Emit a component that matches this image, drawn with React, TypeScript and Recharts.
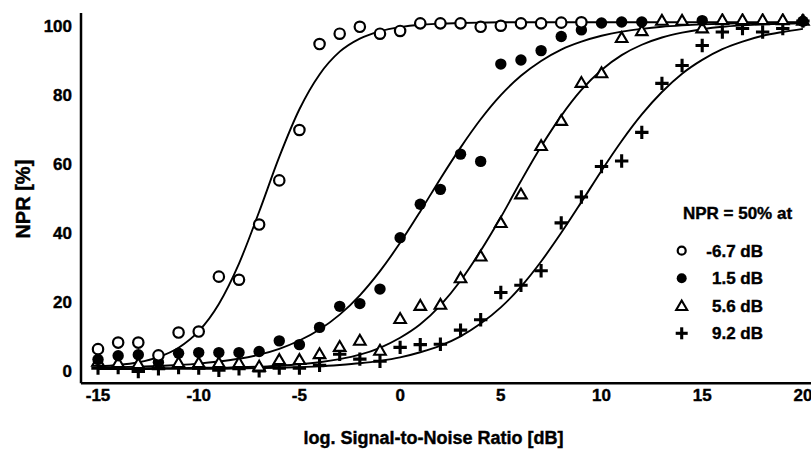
import React from 'react';
import { ComposedChart, Line, Scatter, XAxis, YAxis, Legend } from 'recharts';

// SNR grid (dB)
const snr = [-15, -14, -13, -12, -11, -10, -9, -8, -7, -6, -5, -4, -3, -2, -1, 0, 1, 2, 3, 4, 5, 6, 7, 8, 9, 10, 11, 12, 13, 14, 15, 16, 17, 18, 19, 20];

// fitted curves
const fitOpen = [1.3, 1.7, 2.5, 4.0, 6.7, 11.5, 19.4, 31.1, 46.1, 62.0, 75.8, 85.9, 92.5, 96.3, 98.4, 99.6, 100.3, 100.6, 100.8, 100.9, 101, 101, 101, 101, 101, 101, 101, 101, 101, 101, 101, 101, 101, 101, 101, 101];
const fitFilled = [1.0, 1.1, 1.2, 1.4, 1.7, 2.1, 2.7, 3.5, 4.7, 6.4, 8.8, 12.0, 16.3, 21.9, 28.9, 37.1, 46.2, 55.7, 64.7, 72.9, 79.9, 85.5, 89.8, 93.1, 95.4, 97.1, 98.3, 99.1, 99.7, 100.1, 100.4, 100.6, 100.7, 100.8, 100.9, 100.9];
const fitTri = [0.7, 0.7, 0.7, 0.8, 0.8, 0.9, 0.9, 1.1, 1.2, 1.5, 1.9, 2.5, 3.4, 4.7, 6.7, 9.6, 13.5, 19.0, 26.1, 34.8, 44.5, 55.0, 65.0, 73.9, 81.4, 87.2, 91.5, 94.5, 96.6, 98.0, 99.0, 99.7, 100.1, 100.4, 100.6, 100.7];
const fitPlus = [0.5, 0.5, 0.5, 0.6, 0.6, 0.6, 0.6, 0.7, 0.8, 0.9, 1.1, 1.3, 1.7, 2.2, 2.9, 3.9, 5.4, 7.3, 10.0, 13.7, 18.4, 24.4, 31.7, 40.0, 48.9, 58.0, 66.6, 74.3, 80.8, 86.1, 90.1, 93.2, 95.4, 97.1, 98.2, 99.1];

// measured points
const openX = [-15, -14, -13, -12, -11, -10, -9, -8, -7, -6, -5, -4, -3, -2, -1, 0, 1, 2, 3, 4, 5, 6, 7, 8, 9];
const openY = [6.3, 8.2, 8.2, 4.5, 11.1, 11.4, 27.3, 26.4, 42.4, 55.2, 69.8, 94.7, 97.7, 99.7, 97.7, 98.5, 100.7, 100.7, 100.7, 99.7, 100, 100.7, 100.7, 100.9, 101];
const filledX = [-15, -14, -13, -12, -11, -10, -9, -8, -7, -6, -5, -4, -3, -2, -1, 0, 1, 2, 3, 4, 5, 6, 7, 8, 9, 10, 11, 12, 15, 20];
const filledY = [3.3, 4.4, 4.7, 2.5, 5.1, 5.3, 5.3, 5.3, 5.6, 8.7, 7.6, 12.6, 18.7, 19.5, 23.7, 38.6, 48.3, 52.6, 62.8, 60.7, 88.9, 90.1, 92.8, 96.9, 98.8, 100.8, 101.1, 101.1, 101.5, 101.3];
const triY = [2.7, 2.3, 2.0, 2.0, 2.3, 2.3, 2.3, 2.3, 1.3, 3.2, 3.2, 4.9, 7.0, 8.8, 5.9, 15.1, 18.9, 19.2, 26.9, 33.2, 42.9, 51.2, 65.2, 72.5, 83.5, 86.3, 96.5, 98.5, 101.5, 101.5, 99.3, 101.7, 101.7, 101.7, 101.7, 101.5];
const plusY = [0.8, 1.0, -0.2, 0.6, 1.0, 0.8, 0.2, 0.6, 0, 0.8, 0.8, 1.6, 4.8, 3.4, 2.8, 6.8, 7.6, 7.7, 11.8, 14.8, 22.7, 24.8, 29.0, 42.9, 50.4, 59.2, 60.8, 69.1, 83.3, 88.5, 94.3, 98.2, 99.2, 98.2, 99.2, 101.4];

// ticks & labels
const xMajor = [-15, -10, -5, 0, 5, 10, 15, 20];
const xMinor = snr;
const yMajor = [0, 20, 40, 60, 80, 100];
const yMinor = [0, 4, 8, 12, 16, 20, 24, 28, 32, 36, 40, 44, 48, 52, 56, 60, 64, 68, 72, 76, 80, 84, 88, 92, 96, 100];
const legendTitle = 'NPR = 50% at';
const legendLabels = ['-6.7 dB', '1.5 dB', '5.6 dB', '9.2 dB'];
const xTitle = 'log. Signal-to-Noise Ratio [dB]';
const yTitle = 'NPR [%]';

const zip = (xs: number[], ys: number[]) => xs.map((x, i) => ({ x, y: ys[i] }));
const curveOpen = zip(snr, fitOpen);
const curveFilled = zip(snr, fitFilled);
const curveTri = zip(snr, fitTri);
const curvePlus = zip(snr, fitPlus);
const ptsOpen = zip(openX, openY);
const ptsFilled = zip(filledX, filledY);
const ptsTri = zip(snr, triY);
const ptsPlus = zip(snr, plusY);

const FONT = '"Liberation Sans", Arial, Helvetica, sans-serif';
const XDOM: [number, number] = [-15.845, 20.6];
const YDOM: [number, number] = [-3.6, 103.7];
const TXT_STROKE = 0.4;

const OpenMark = ({ cx, cy, r = 5.2 }: any) => (
  <circle cx={cx} cy={cy} r={r} fill="#fff" stroke="#000" strokeWidth={2.2} />
);
const FilledMark = ({ cx, cy, r = 5.7 }: any) => <circle cx={cx} cy={cy} r={r} fill="#000" />;
const TriMark = ({ cx, cy, s = 1 }: any) => (
  <polygon
    points={`${cx},${cy - 5.7 * s} ${cx - 5.8 * s},${cy + 4.2 * s} ${cx + 5.8 * s},${cy + 4.2 * s}`}
    fill="#fff"
    stroke="#000"
    strokeWidth={2.1}
    strokeLinejoin="miter"
  />
);
const PlusMark = ({ cx, cy, h = 6.7 }: any) => (
  <g stroke="#000" strokeWidth={3.1}>
    <line x1={cx - h} y1={cy} x2={cx + h} y2={cy} />
    <line x1={cx} y1={cy - h} x2={cx} y2={cy + h} />
  </g>
);

const LegendBox = () => {
  const rows = [55.7, 83.3, 111, 138.3];
  const mk = [
    (y: number) => <OpenMark cx={21.7} cy={y} r={4} />,
    (y: number) => <FilledMark cx={21.7} cy={y} r={5} />,
    (y: number) => <TriMark cx={21.7} cy={y} s={0.95} />,
    (y: number) => <PlusMark cx={21.7} cy={y} h={6} />,
  ];
  return (
    <svg width={150} height={160} style={{ display: 'block' }}>
      <text x={77.5} y={18} dy="0.36em" textAnchor="middle" fontFamily={FONT} fontWeight="bold" fontSize={17} fill="#000" stroke="#000" strokeWidth={TXT_STROKE}>
        {legendTitle}
      </text>
      {legendLabels.map((l, i) => (
        <g key={l}>
          {mk[i](rows[i])}
          <text x={103} y={rows[i]} dy="0.36em" textAnchor="end" fontFamily={FONT} fontWeight="bold" fontSize={17} fill="#000" stroke="#000" strokeWidth={TXT_STROKE}>
            {l}
          </text>
        </g>
      ))}
    </svg>
  );
};

const tickStyle = { fontFamily: FONT, fontWeight: 'bold' as const, fontSize: 17, fill: '#000', stroke: '#000', strokeWidth: TXT_STROKE };

export default function App() {
  return (
    <div style={{ position: 'absolute', left: 0, top: 0, width: 811, height: 451, overflow: 'hidden', background: '#fff' }}>
      <ComposedChart width={830} height={451} margin={{ top: 13, right: 15, bottom: 6.7, left: 0 }}>
        {/* main axes with labels */}
        <XAxis
          xAxisId={0}
          dataKey="x"
          type="number"
          domain={XDOM}
          allowDataOverflow
          ticks={xMajor}
          interval={0}
          height={61}
          tickLine={false}
          tickSize={0}
          tickMargin={6}
          axisLine={{ stroke: '#000', strokeWidth: 2.5 }}
          tick={tickStyle}
          label={{
            value: xTitle,
            content: (p: any) => {
              const vb = p.viewBox;
              return (
                <text x={433.5} y={vb.y + vb.height} textAnchor="middle" fontFamily={FONT} fontWeight="bold" fontSize={18} fill="#000" stroke="#000" strokeWidth={TXT_STROKE}>
                  {xTitle}
                </text>
              );
            },
          }}
        />
        <YAxis
          yAxisId={0}
          dataKey="y"
          type="number"
          domain={YDOM}
          allowDataOverflow
          ticks={yMajor}
          interval={0}
          width={81}
          tickLine={false}
          tickSize={0}
          tickMargin={9}
          axisLine={{ stroke: '#000', strokeWidth: 2.5 }}
          tick={tickStyle}
          label={{
            value: yTitle,
            content: (p: any) => {
              const vb = p.viewBox;
              const cx = 23.3;
              const cy = vb.y + vb.height / 2 + 1;
              return (
                <text x={cx} y={cy} dy="0.36em" textAnchor="middle" transform={`rotate(-90, ${cx}, ${cy})`} fontFamily={FONT} fontWeight="bold" fontSize={20} fill="#000" stroke="#000" strokeWidth={TXT_STROKE}>
                  {yTitle}
                </text>
              );
            },
          }}
        />
        {/* inward tick marks */}
        <XAxis xAxisId="bmin" type="number" domain={XDOM} allowDataOverflow ticks={xMinor} interval={0} mirror height={0} tick={false} tickSize={3} axisLine={false} tickLine={{ stroke: '#000', strokeWidth: 1.3 }} />
        <XAxis xAxisId="bmaj" type="number" domain={XDOM} allowDataOverflow ticks={xMajor} interval={0} mirror height={0} tick={false} tickSize={6} axisLine={false} tickLine={{ stroke: '#000', strokeWidth: 1.6 }} />
        <XAxis xAxisId="tmin" orientation="top" type="number" domain={XDOM} allowDataOverflow ticks={xMinor} interval={0} mirror height={0} tick={false} tickSize={3} axisLine={{ stroke: '#000', strokeWidth: 2.5 }} tickLine={{ stroke: '#000', strokeWidth: 1.3 }} />
        <XAxis xAxisId="tmaj" orientation="top" type="number" domain={XDOM} allowDataOverflow ticks={xMajor} interval={0} mirror height={0} tick={false} tickSize={5} axisLine={false} tickLine={{ stroke: '#000', strokeWidth: 1.6 }} />
        <YAxis yAxisId="lmin" type="number" domain={YDOM} allowDataOverflow ticks={yMinor} interval={0} mirror width={0} tick={false} tickSize={3.3} axisLine={false} tickLine={{ stroke: '#000', strokeWidth: 1.3 }} />
        <YAxis yAxisId="lmaj" type="number" domain={YDOM} allowDataOverflow ticks={yMajor} interval={0} mirror width={0} tick={false} tickSize={6} axisLine={false} tickLine={{ stroke: '#000', strokeWidth: 1.6 }} />

        <Legend
          verticalAlign="middle"
          align="center"
          layout="horizontal"
          wrapperStyle={{ position: 'absolute', left: 660, top: 195, width: 150, height: 160 }}
          content={() => <LegendBox />}
        />

        <Line data={curveOpen} dataKey="y" type="monotone" stroke="#000" strokeWidth={1.9} dot={false} activeDot={false} legendType="none" isAnimationActive={false} />
        <Line data={curveFilled} dataKey="y" type="monotone" stroke="#000" strokeWidth={1.9} dot={false} activeDot={false} legendType="none" isAnimationActive={false} />
        <Line data={curveTri} dataKey="y" type="monotone" stroke="#000" strokeWidth={1.9} dot={false} activeDot={false} legendType="none" isAnimationActive={false} />
        <Line data={curvePlus} dataKey="y" type="monotone" stroke="#000" strokeWidth={1.9} dot={false} activeDot={false} legendType="none" isAnimationActive={false} />

        <Scatter data={ptsPlus} dataKey="y" shape={(p: any) => <PlusMark cx={p.cx} cy={p.cy} />} isAnimationActive={false} />
        <Scatter data={ptsTri} dataKey="y" shape={(p: any) => <TriMark cx={p.cx} cy={p.cy} />} isAnimationActive={false} />
        <Scatter data={ptsFilled} dataKey="y" shape={(p: any) => <FilledMark cx={p.cx} cy={p.cy} />} isAnimationActive={false} />
        <Scatter data={ptsOpen} dataKey="y" shape={(p: any) => <OpenMark cx={p.cx} cy={p.cy} />} isAnimationActive={false} />
      </ComposedChart>
    </div>
  );
}
